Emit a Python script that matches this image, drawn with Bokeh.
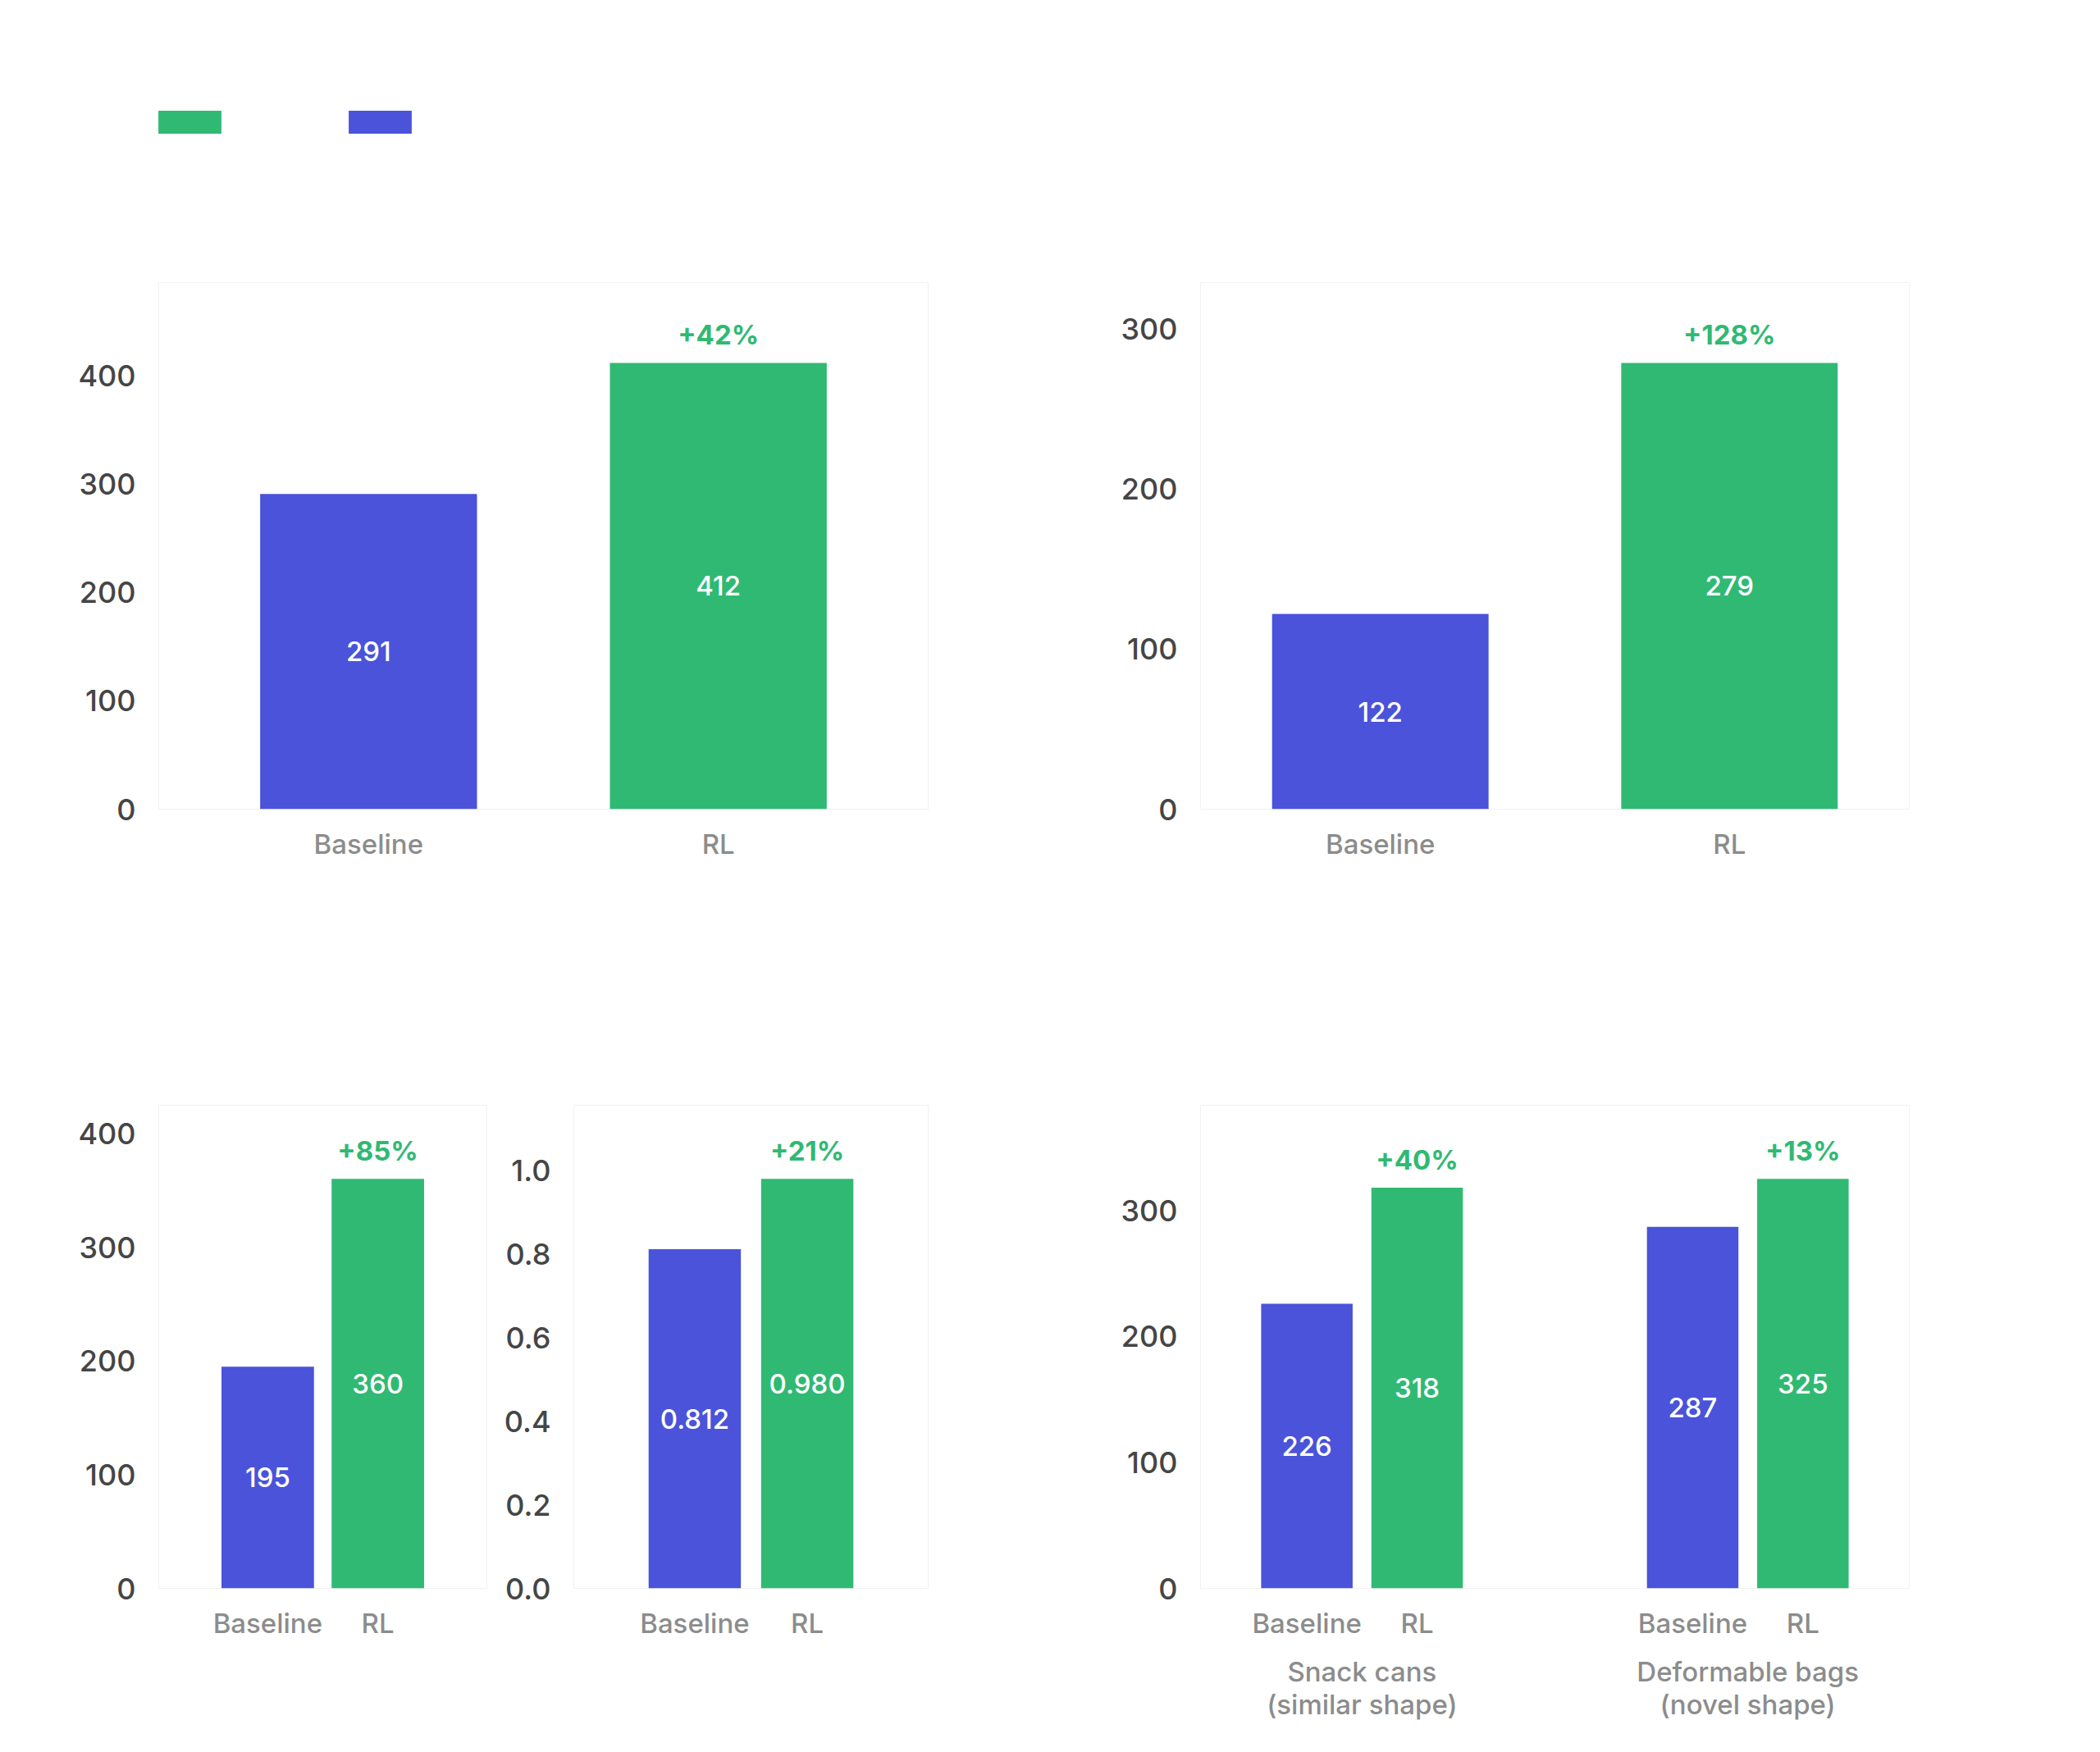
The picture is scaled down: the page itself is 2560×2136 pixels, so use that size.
from bokeh.plotting import figure
from bokeh.models import (ColumnDataSource, FactorRange, Range1d, FixedTicker,
                          PrintfTickFormatter, Title, Legend, LegendItem)
from bokeh.layouts import column, row
from bokeh.embed import file_html
from bokeh.resources import INLINE
from bokeh.core.properties import value

# ---------------- data ----------------
categories = ["Baseline", "RL"]
machine_feeding = [291, 412]
machine_gain = ["+42%"]
tote_handling = [122, 279]
tote_gain = ["+128%"]
seen_throughput = [195, 360]
seen_throughput_gain = ["+85%"]
seen_success = [0.812, 0.980]
seen_success_gain = ["+21%"]
unseen_groups = ["Snack cans\n(similar shape)", "Deformable bags\n(novel shape)"]
unseen_throughput = [226, 318, 287, 325]   # group1 Baseline, RL, group2 Baseline, RL
unseen_gain = ["+40%", "+13%"]

ticks_machine = [0, 100, 200, 300, 400]
ticks_tote = [0, 100, 200, 300]
ticks_seen_tp = [0, 100, 200, 300, 400]
ticks_seen_sr = [0.0, 0.2, 0.4, 0.6, 0.8, 1.0]
ticks_unseen = [0, 100, 200, 300]

# ---------------- style ----------------
FONT = "Inter"
FONT_MED = "Inter Medium, Inter"
BLUE = "#4a53d9"
GREEN = "#30b973"
TICK = "#454545"
CAT = "#8c8c8c"
WHITE = "#ffffff"
HEADROOM = 1.18


def colors_for(labels):
    return [BLUE if c == "Baseline" else GREEN for c in labels]


def panel(factors, values, gains, ticks, tick_fmt, val_fmt, w, h, bl, br, bt, bb,
          pad, bw, ylabel=None, ylab_standoff=45, nested=False):
    if nested:
        xr = FactorRange(*factors, range_padding=pad, range_padding_units="absolute",
                         factor_padding=0.0, group_padding=1.5)
    else:
        xr = FactorRange(*factors, range_padding=pad, range_padding_units="absolute")
    p = figure(x_range=xr, y_range=Range1d(0, max(values) * HEADROOM), title=None,
               width=w, height=h, output_backend="svg", toolbar_location=None,
               min_border_left=bl, min_border_right=br, min_border_top=bt,
               min_border_bottom=bb, background_fill_color="white",
               border_fill_color="white", outline_line_color="#f1f1f1")
    leaf = [f[-1] if nested else f for f in factors]
    src = ColumnDataSource(dict(x=factors, top=values, mid=[v / 2 for v in values],
                                color=colors_for(leaf),
                                val=[val_fmt.format(v) for v in values]))
    r = p.vbar(x="x", top="top", width=bw, fill_color="color", line_color=None, source=src)
    p.text(x="x", y="mid", text="val", source=src, text_color="white",
           text_align="center", text_baseline="middle", text_font=value(FONT_MED),
           text_font_size="33px", text_font_style="normal")
    rl_idx = [i for i, c in enumerate(leaf) if c == "RL"]
    gsrc = ColumnDataSource(dict(x=[factors[i] for i in rl_idx],
                                 y=[values[i] for i in rl_idx], g=gains))
    p.text(x="x", y="y", text="g", source=gsrc, y_offset=-14, text_color=GREEN,
           text_align="center", text_baseline="bottom", text_font=value(FONT),
           text_font_size="33px", text_font_style="bold")

    p.xgrid.visible = False
    p.ygrid.visible = False

    xa = p.xaxis[0]
    xa.axis_line_color = None
    xa.major_tick_line_color = None
    xa.minor_tick_line_color = None
    xa.major_label_text_font = FONT_MED
    xa.major_label_text_font_size = "33px"
    xa.major_label_text_color = CAT
    xa.major_label_standoff = 16
    if nested:
        xa.group_text_font = FONT_MED
        xa.group_text_font_size = "33px"
        xa.group_text_color = CAT
        xa.group_text_font_style = "normal"
        xa.group_text_line_height = 1.0
        xa.separator_line_color = None

    ya = p.yaxis[0]
    ya.ticker = FixedTicker(ticks=ticks, minor_ticks=[])
    ya.formatter = PrintfTickFormatter(format=tick_fmt)
    ya.axis_line_color = None
    ya.major_tick_line_color = None
    ya.minor_tick_line_color = None
    ya.major_label_text_font = FONT_MED
    ya.major_label_text_font_size = "36px"
    ya.major_label_text_color = TICK
    ya.major_label_standoff = 22
    if ylabel:
        ya.axis_label = ylabel
        ya.axis_label_text_font = FONT
        ya.axis_label_text_font_size = "32px"
        ya.axis_label_text_color = WHITE
        ya.axis_label_text_font_style = "normal"
        ya.axis_label_standoff = ylab_standoff
    return p, r


def head(p, text, size, standoff):
    p.add_layout(Title(text=text, align="left", offset=0, standoff=standoff,
                       text_font=FONT, text_font_size=size, text_color=WHITE,
                       text_font_style="normal"), "above")


def blank(w, h, left, top, **ranges):
    f = figure(width=w, height=h, title=None, output_backend="svg", toolbar_location=None,
               x_axis_location=None, y_axis_location=None, min_border_left=left,
               min_border_right=0, min_border_top=top, min_border_bottom=0,
               outline_line_color=None, background_fill_color="white",
               border_fill_color="white", **ranges)
    f.xgrid.visible = False
    f.ygrid.visible = False
    return f


# ---------------- header: title + legend ----------------
hdrTop = blank(2560, 185, 193, 96, x_range=FactorRange(*categories), y_range=Range1d(0, 1))
lsrc = ColumnDataSource(dict(x=categories, top=machine_feeding, color=colors_for(categories)))
lr = hdrTop.vbar(x="x", top="top", width=0.5, fill_color="color", line_color=None,
                 source=lsrc, visible=False)
head(hdrTop, "RL results", "48px", 10)
legend = Legend(items=[LegendItem(label=value("RL"), renderers=[lr], index=1),
                       LegendItem(label=value("Baseline"), renderers=[lr], index=0)],
                location=(-10, 17), orientation="horizontal", glyph_width=96,
                glyph_height=35, label_standoff=21, label_width=115,
                spacing=0, padding=0, margin=0, border_line_color=None,
                background_fill_alpha=0, inactive_fill_alpha=0,
                label_text_color=WHITE, label_text_font=FONT,
                label_text_font_size="32px")
hdrTop.add_layout(legend)

# ---------------- top row ----------------
pA, _ = panel(categories, machine_feeding, machine_gain, ticks_machine, "%d", "{:d}",
              1250, 915, 193, 119, 159, 114, 0.1, 0.62, ylabel="Rings/hour", ylab_standoff=34)
head(pA, "Throughput", "32px", 29)
head(pA, "Machine feeding", "50px", 7.5)

pB, _ = panel(categories, tote_handling, tote_gain, ticks_tote, "%d", "{:d}",
              1310, 915, 213, 233, 159, 114, 0.015, 0.62, ylabel="Items/hour", ylab_standoff=60)
head(pB, "Throughput", "32px", 29)
head(pB, "Tote handling", "50px", 7.5)

# ---------------- bottom row ----------------
hdrC = blank(1250, 181, 193, 177)
head(hdrC, "Picking - seen objects", "50px", 10)

pC, _ = panel(categories, seen_throughput, seen_throughput_gain, ticks_seen_tp, "%d", "{:d}",
              610, 855, 193, 17, 66, 200, 0.49, 0.84, ylabel="Items/hour", ylab_standoff=33)
head(pC, "Throughput", "32px", 22)

pD, _ = panel(categories, seen_success, seen_success_gain, ticks_seen_sr, "%.1f", "{:.3f}",
              640, 855, 89, 119, 66, 200, 0.575, 0.82)
head(pD, "Success rate", "32px", 22)

unseen_factors = [(g, c) for g in unseen_groups for c in categories]
pE, _ = panel(unseen_factors, unseen_throughput, unseen_gain, ticks_unseen, "%d", "{:d}",
              1310, 1036, 213, 233, 247, 200, 0.465, 0.83, ylabel="Items/hour",
              ylab_standoff=60, nested=True)
head(pE, "Throughput", "32px", 22)
head(pE, "Picking - unseen objects", "50px", 23.5)

layout = column(hdrTop, row(pA, pB), row(column(hdrC, row(pC, pD)), pE))
open("out.html", "w").write(file_html(layout, INLINE))
